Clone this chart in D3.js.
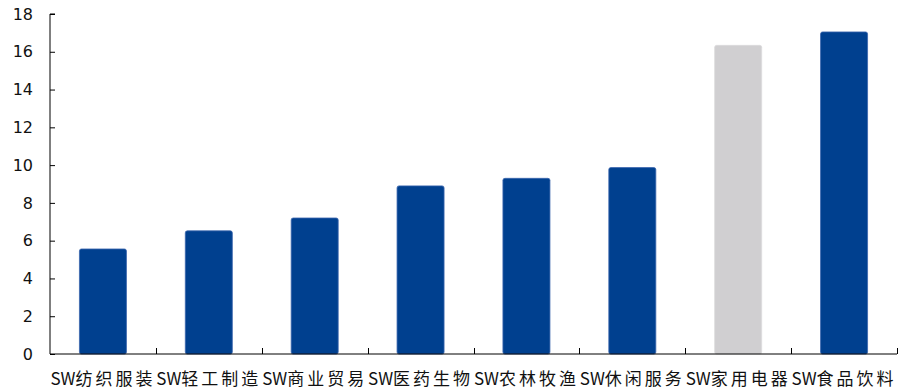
<!DOCTYPE html>
<html>
<head>
<meta charset="utf-8">
<script src="https://cdn.jsdelivr.net/npm/d3@7"></script>
<style>
  html, body { margin: 0; padding: 0; background: #fff; }
  svg { display: block; }
</style>
</head>
<body>
<svg id="chart" width="902" height="389"></svg>
<script>
// Industry names and their values
const categories = ["SW纺织服装", "SW轻工制造", "SW商业贸易", "SW医药生物", "SW农林牧渔", "SW休闲服务", "SW家用电器", "SW食品饮料"];
const values = [5.56, 6.52, 7.2, 8.9, 9.3, 9.87, 16.34, 17.05];
const highlighted = ["SW家用电器"];
const yTicks = [0, 2, 4, 6, 8, 10, 12, 14, 16, 18];

const svg = d3.select("#chart");
const margin = { left: 50, right: 5, top: 14, bottom: 35 };
const width = 902, height = 389;

const x = d3.scaleBand()
  .domain(categories)
  .range([margin.left, width - margin.right])
  .paddingInner(0.556)
  .paddingOuter(0.278);

const y = d3.scaleLinear()
  .domain([0, 18])
  .range([height - margin.bottom, margin.top]);

// Bars
svg.append("g")
  .selectAll("rect")
  .data(categories)
  .join("rect")
  .attr("x", d => x(d))
  .attr("y", (d, i) => y(values[i]))
  .attr("width", x.bandwidth())
  .attr("height", (d, i) => y(0) - y(values[i]))
  .attr("rx", 2)
  .attr("fill", d => highlighted.includes(d) ? "#d0cfd1" : "#00408f")
  .attr("stroke", d => highlighted.includes(d) ? "#dcdbdc" : "#3a65ad")
  .attr("stroke-width", 0.8);

// Y axis
const yAxis = d3.axisRight(y).tickValues(yTicks).tickSize(5).tickFormat(d3.format("d"));
const gy = svg.append("g").attr("transform", `translate(${margin.left},0)`).call(yAxis);
gy.select(".domain").attr("d", `M5,${y(18)}H0V${y(0)}`).attr("stroke", "#000");
gy.selectAll(".tick line").attr("stroke", "#000");
gy.selectAll(".tick text")
  .attr("x", -17)
  .attr("text-anchor", "end")
  .attr("font-family", "'DejaVu Sans', Verdana, sans-serif")
  .attr("font-size", 16)
  .attr("fill", "#111");

// X axis with boundary ticks between categories
const bounds = d3.range(categories.length + 1).map(i => margin.left + i * x.step());
const gx = svg.append("g");
gx.append("line")
  .attr("x1", margin.left).attr("x2", width - margin.right)
  .attr("y1", y(0)).attr("y2", y(0))
  .attr("stroke", "#000").attr("stroke-width", 1);
gx.selectAll("line.bt")
  .data(bounds.slice(1))
  .join("line")
  .attr("class", "bt")
  .attr("x1", d => Math.round(d) + 0.5).attr("x2", d => Math.round(d) + 0.5)
  .attr("y1", y(0)).attr("y2", y(0) - 6)
  .attr("stroke", "#000");

// Category labels: Latin prefix set tight, Chinese part spaced out
const labels = gx.selectAll("text")
  .data(categories)
  .join("text")
  .attr("x", d => x(d) + x.bandwidth() / 2)
  .attr("y", 385)
  .attr("text-anchor", "middle")
  .attr("font-family", "'Noto Sans CJK SC', 'DejaVu Sans', sans-serif")
  .attr("font-size", 17)
  .attr("fill", "#111");
labels.append("tspan").text(d => d.slice(0, 2));
labels.append("tspan").attr("letter-spacing", 3).text(d => d.slice(2));
</script>
</body>
</html>
